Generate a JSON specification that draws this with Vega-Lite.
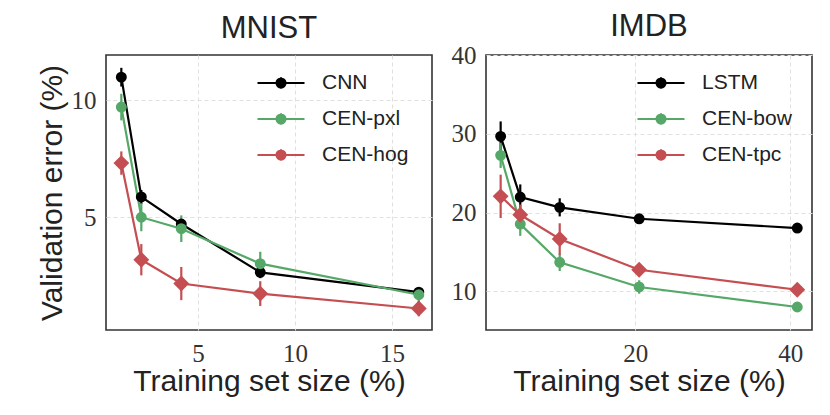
{
  "$schema": "https://vega.github.io/schema/vega-lite/v6.json",
  "background": "white",
  "padding": {"left": 36, "top": 10, "right": 5, "bottom": 5},
  "spacing": 17,
  "config": {
    "view": {"stroke": "#333333", "strokeWidth": 1.6},
    "axis": {
      "domain": false, "ticks": false, "grid": true,
      "gridColor": "#e0e0e0", "gridDash": [4, 3], "gridWidth": 1,
      "labelFont": "Liberation Serif", "labelFontSize": 25, "labelColor": "#333333", "labelPadding": 10,
      "titleFont": "Liberation Sans", "titleFontSize": 30, "titleFontWeight": "normal", "titleColor": "#222222"
    },
    "axisX": {"labelPadding": 11, "titlePadding": 0},
    "title": {"font": "Liberation Sans", "fontSize": 31, "fontWeight": "normal", "color": "#222222"},
    "legend": {
      "symbolType": "M-1,0H1M0,-0.245V0.245M-0.19,0A0.19,0.19 0 1,0 0.19,0A0.19,0.19 0 1,0 -0.19,0Z",
      "symbolSize": 2209, "symbolStrokeWidth": 2.2, "symbolOpacity": 1,
      "labelFont": "Liberation Sans", "labelFontSize": 21, "labelColor": "#222222",
      "labelOffset": 16, "rowPadding": -2, "padding": 0
    }
  },
  "datasets": {
    "mnist": [
      {"model": "CNN", "pct": 1.05, "err": 10.99, "lo": 10.59, "hi": 11.39},
      {"model": "CNN", "pct": 2.08, "err": 5.86, "lo": 5.56, "hi": 6.16},
      {"model": "CNN", "pct": 4.14, "err": 4.70, "lo": 4.50, "hi": 4.90},
      {"model": "CNN", "pct": 8.21, "err": 2.63, "lo": 2.38, "hi": 2.88},
      {"model": "CNN", "pct": 16.38, "err": 1.78, "lo": 1.60, "hi": 1.96},
      {"model": "CEN-pxl", "pct": 1.05, "err": 9.71, "lo": 9.14, "hi": 10.28},
      {"model": "CEN-pxl", "pct": 2.08, "err": 4.99, "lo": 4.39, "hi": 5.59},
      {"model": "CEN-pxl", "pct": 4.14, "err": 4.50, "lo": 3.93, "hi": 5.07},
      {"model": "CEN-pxl", "pct": 8.21, "err": 3.00, "lo": 2.49, "hi": 3.51},
      {"model": "CEN-pxl", "pct": 16.38, "err": 1.67, "lo": 1.37, "hi": 1.97},
      {"model": "CEN-hog", "pct": 1.05, "err": 7.31, "lo": 6.81, "hi": 7.81},
      {"model": "CEN-hog", "pct": 2.08, "err": 3.17, "lo": 2.50, "hi": 3.84},
      {"model": "CEN-hog", "pct": 4.14, "err": 2.15, "lo": 1.44, "hi": 2.86},
      {"model": "CEN-hog", "pct": 8.21, "err": 1.72, "lo": 1.19, "hi": 2.25},
      {"model": "CEN-hog", "pct": 16.38, "err": 1.08, "lo": 0.75, "hi": 1.41}
    ],
    "imdb": [
      {"model": "LSTM", "pct": 2.63, "err": 29.67, "lo": 27.77, "hi": 31.57},
      {"model": "LSTM", "pct": 5.16, "err": 21.97, "lo": 20.37, "hi": 23.57},
      {"model": "LSTM", "pct": 10.25, "err": 20.66, "lo": 19.51, "hi": 21.81},
      {"model": "LSTM", "pct": 20.5, "err": 19.21, "lo": 18.81, "hi": 19.61},
      {"model": "LSTM", "pct": 40.9, "err": 18.03, "lo": 17.73, "hi": 18.33},
      {"model": "CEN-bow", "pct": 2.63, "err": 27.26, "lo": 25.66, "hi": 28.86},
      {"model": "CEN-bow", "pct": 5.16, "err": 18.54, "lo": 17.04, "hi": 20.04},
      {"model": "CEN-bow", "pct": 10.25, "err": 13.68, "lo": 12.58, "hi": 14.78},
      {"model": "CEN-bow", "pct": 20.5, "err": 10.55, "lo": 9.70, "hi": 11.40},
      {"model": "CEN-bow", "pct": 40.9, "err": 8.01, "lo": 7.51, "hi": 8.51},
      {"model": "CEN-tpc", "pct": 2.63, "err": 22.06, "lo": 19.31, "hi": 24.81},
      {"model": "CEN-tpc", "pct": 5.16, "err": 19.72, "lo": 18.42, "hi": 21.02},
      {"model": "CEN-tpc", "pct": 10.25, "err": 16.64, "lo": 14.64, "hi": 18.64},
      {"model": "CEN-tpc", "pct": 20.5, "err": 12.74, "lo": 12.14, "hi": 13.34},
      {"model": "CEN-tpc", "pct": 40.9, "err": 10.2, "lo": 9.70, "hi": 10.70}
    ]
  },
  "hconcat": [
    {
      "width": 326, "height": 275,
      "title": {"text": "MNIST", "offset": 10, "frame": "group"},
      "data": {"name": "mnist"},
      "encoding": {
        "x": {"field": "pct", "type": "quantitative", "scale": {"domain": [0.26, 17.06], "nice": false, "zero": false}, "axis": {"values": [5, 10, 15], "title": "Training set size (%)"}},
        "y": {"field": "err", "type": "quantitative", "scale": {"domain": [0.16, 11.94], "nice": false, "zero": false}, "axis": {"values": [5, 10], "title": "Validation error (%)"}},
        "stroke": {"field": "model", "type": "nominal", "scale": {"domain": ["CNN", "CEN-pxl", "CEN-hog"], "range": ["#000000", "#55a868", "#c44e52"]}, "legend": {"orient": "none", "legendX": 150, "legendY": 3, "title": null, "symbolType": "M-1,0H1M0,-0.245V0.245M-0.19,0A0.19,0.19 0 1,0 0.19,0A0.19,0.19 0 1,0 -0.19,0Z", "symbolSize": 2209, "symbolStrokeWidth": 2.2}}
      },
      "layer": [
        {
          "mark": {"type": "rule", "strokeWidth": 2.2},
          "encoding": {"y": {"field": "lo", "type": "quantitative"}, "y2": {"field": "hi"}}
        },
        {
          "mark": {"type": "line", "strokeWidth": 2.2},
          "encoding": {}
        },
        {
          "mark": {"type": "point", "filled": true, "opacity": 1},
          "encoding": {
            "fill": {"field": "model", "type": "nominal", "scale": {"domain": ["CNN", "CEN-pxl", "CEN-hog"], "range": ["#000000", "#55a868", "#c44e52"]}, "legend": {"orient": "none", "legendX": 150, "legendY": 3, "title": null, "symbolType": "M-1,0H1M0,-0.245V0.245M-0.19,0A0.19,0.19 0 1,0 0.19,0A0.19,0.19 0 1,0 -0.19,0Z", "symbolSize": 2209, "symbolStrokeWidth": 2.2}},
            "shape": {"condition": {"test": "datum.model === 'CEN-hog'", "value": "diamond"}, "value": "circle"},
            "size": {"condition": {"test": "datum.model === 'CEN-hog'", "value": 170}, "value": 80}
          }
        }
      ]
    },
    {
      "width": 326, "height": 275,
      "title": {"text": "IMDB", "offset": 0, "frame": "group"},
      "data": {"name": "imdb"},
      "encoding": {
        "x": {"field": "pct", "type": "quantitative", "scale": {"domain": [0.74, 42.8], "nice": false, "zero": false}, "axis": {"values": [20, 40], "title": "Training set size (%)"}},
        "y": {"field": "err", "type": "quantitative", "scale": {"domain": [5.09, 40], "nice": false, "zero": false}, "axis": {"values": [10, 20, 30, 40], "title": null}},
        "stroke": {"field": "model", "type": "nominal", "scale": {"domain": ["LSTM", "CEN-bow", "CEN-tpc"], "range": ["#000000", "#55a868", "#c44e52"]}, "legend": {"orient": "none", "legendX": 150, "legendY": 3, "title": null, "symbolType": "M-1,0H1M0,-0.245V0.245M-0.19,0A0.19,0.19 0 1,0 0.19,0A0.19,0.19 0 1,0 -0.19,0Z", "symbolSize": 2209, "symbolStrokeWidth": 2.2}}
      },
      "layer": [
        {
          "mark": {"type": "rule", "strokeWidth": 2.2},
          "encoding": {"y": {"field": "lo", "type": "quantitative"}, "y2": {"field": "hi"}}
        },
        {
          "mark": {"type": "line", "strokeWidth": 2.2},
          "encoding": {}
        },
        {
          "mark": {"type": "point", "filled": true, "opacity": 1},
          "encoding": {
            "fill": {"field": "model", "type": "nominal", "scale": {"domain": ["LSTM", "CEN-bow", "CEN-tpc"], "range": ["#000000", "#55a868", "#c44e52"]}, "legend": {"orient": "none", "legendX": 150, "legendY": 3, "title": null, "symbolType": "M-1,0H1M0,-0.245V0.245M-0.19,0A0.19,0.19 0 1,0 0.19,0A0.19,0.19 0 1,0 -0.19,0Z", "symbolSize": 2209, "symbolStrokeWidth": 2.2}},
            "shape": {"condition": {"test": "datum.model === 'CEN-tpc'", "value": "diamond"}, "value": "circle"},
            "size": {"condition": {"test": "datum.model === 'CEN-tpc'", "value": 170}, "value": 80}
          }
        }
      ]
    }
  ],
  "resolve": {
    "scale": {"x": "independent", "y": "independent", "fill": "independent", "stroke": "independent"},
    "legend": {"fill": "independent", "stroke": "independent"}
  }
}
